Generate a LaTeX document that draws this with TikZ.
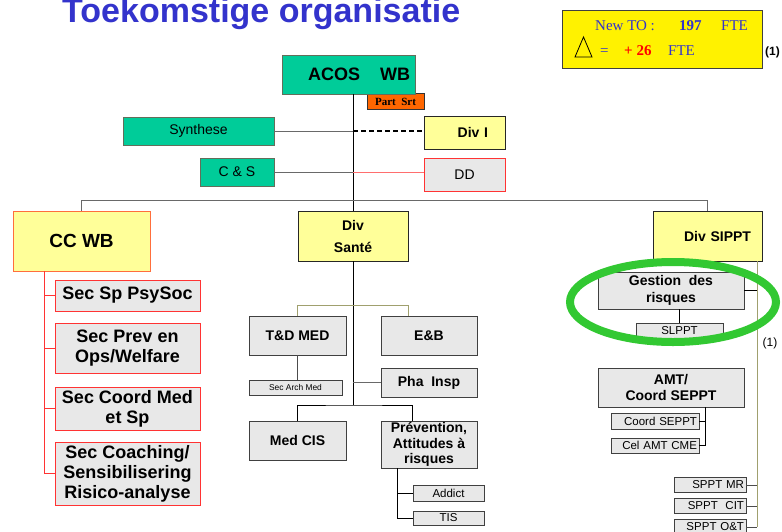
\documentclass[tikz,border=0pt]{standalone}
\usepackage{fontspec}
\setmainfont{Liberation Sans}
\newfontfamily\timesfont{Liberation Serif}
\usepackage{xcolor}

\definecolor{acosgreen}{RGB}{0,204,153}
\definecolor{greenedge}{RGB}{100,110,90}
\definecolor{divyellow}{RGB}{255,255,153}
\definecolor{boxgrey}{RGB}{232,232,232}
\definecolor{boxred}{RGB}{255,51,51}
\definecolor{ccred}{RGB}{255,110,60}
\definecolor{partorange}{RGB}{255,102,0}
\definecolor{titleblue}{RGB}{51,51,204}
\definecolor{linegrey}{RGB}{105,105,105}
\definecolor{linepink}{RGB}{255,110,110}
\definecolor{lineolive}{RGB}{160,160,110}
\definecolor{ringgreen}{RGB}{50,200,50}

\begin{document}
\begin{tikzpicture}[x=1pt, y=-1pt,
    wh/.style 2 args={minimum width=#1pt, minimum height=#2pt},
    box/.style={draw, inner sep=0pt, line width=0.8pt, align=center},
    greenbox/.style={box, fill=acosgreen, draw=greenedge},
    yellowbox/.style={box, fill=divyellow, draw=black!85},
    greybox/.style={box, fill=boxgrey, draw=black!75},
    redbox/.style={box, fill=boxgrey, draw=boxred},
    rightbox/.style={greybox, align=right, inner xsep=2pt},
    boldtxt/.style={font=\bfseries\fontsize{14}{16}\selectfont},
    plaintxt/.style={font=\fontsize{14}{16}\selectfont},
    smalltxt/.style={font=\fontsize{11.5}{13}\selectfont},
    sectxt/.style={font=\bfseries\fontsize{18}{20}\selectfont},
    infotxt/.style={anchor=base west, inner sep=0pt, font=\timesfont\fontsize{15}{17}\selectfont, text=titleblue},
    conn/.style={line width=0.8pt}]

    \useasboundingbox (0,0) rectangle (782,531);

    %title
    \node[anchor=base west, inner sep=0pt, text=titleblue, font=\bfseries\fontsize{34}{40}\selectfont] (title) at (62,22) {Toekomstige organisatie};

    %info box
    \node[box, fill=yellow, draw=black!75, wh={200}{58}] (info) at (662,39) {};
    \node[infotxt] (newto) at (595,30) {New TO :};
    \node[infotxt, font=\timesfont\bfseries\fontsize{15}{17}\selectfont] (total) at (679,30) {197};
    \node[infotxt] (fteone) at (721,30) {FTE};
    \node[infotxt] (equal) at (600,55) {=};
    \node[infotxt, text=red, font=\timesfont\bfseries\fontsize{15}{17}\selectfont] (delta) at (624,55) {+ 26};
    \node[infotxt] (ftetwo) at (668,55) {FTE};
    \draw[line width=0.8pt] (575,57) -- (583.5,37) -- (592,57) -- cycle;
    \node[anchor=base west, inner sep=0pt, font=\bfseries\fontsize{12}{14}\selectfont] (noteone) at (765,55) {(1)};

    %top boxes
    \node[box, fill=partorange, draw=black!80, wh={57}{16}, font=\timesfont\bfseries\fontsize{11}{12}\selectfont] (partsrt) at (395.5,101.5) {Part\ \ Srt};
    \node[greenbox, wh={133}{39}, align=right, inner xsep=5pt, text width=123pt, font=\bfseries\fontsize{18}{20}\selectfont] (acos) at (348.5,74.5) {ACOS\hspace{20pt}WB};
    \node[greenbox, wh={151}{28}, plaintxt] (synth) at (198.5,131) {Synthese};
    \node[yellowbox, wh={81}{33}, align=right, inner xsep=17pt, text width=47pt, boldtxt] (divi) at (464.5,132.5) {Div I};
    \node[greenbox, wh={74}{28}, plaintxt] (cs) at (237,172) {C \& S};
    \node[redbox, wh={81}{33}, plaintxt] (dd) at (464.5,174.5) {DD};

    %left column
    \node[box, fill=divyellow, draw=ccred, wh={137}{60}, font=\bfseries\fontsize{19}{21}\selectfont] (ccwb) at (81.5,241) {CC WB};
    \node[redbox, wh={145}{31}, sectxt] (sec1) at (127.5,295.5) {Sec Sp PsySoc};
    \node[redbox, wh={145}{50}, sectxt] (sec2) at (127.5,348) {Sec Prev en\\Ops/Welfare};
    \node[redbox, wh={145}{43}, sectxt] (sec3) at (127.5,408.5) {Sec Coord Med\\et Sp};
    \node[redbox, wh={145}{63}, sectxt] (sec4) at (127.5,473.5) {Sec Coaching/\\Sensibilisering\\Risico-analyse};

    %middle column
    \node[yellowbox, wh={110}{50}, boldtxt] (divsante) at (353,236) {Div\\[6pt]Santé};
    \node[greybox, wh={97}{39}, boldtxt] (tdmed) at (297.5,335.5) {T\&D MED};
    \node[greybox, wh={96}{39}, boldtxt] (eb) at (429,335.5) {E\&B};
    \node[greybox, wh={93}{15}, font=\fontsize{8.4}{10}\selectfont] (secarch) at (295.5,387.5) {Sec Arch Med};
    \node[greybox, wh={96}{29}, boldtxt] (phainsp) at (429,382.5) {Pha\ \ Insp};
    \node[greybox, wh={97}{39}, boldtxt] (medcis) at (297.5,440.5) {Med CIS};
    \node[greybox, wh={96}{47}, font=\bfseries\fontsize{14}{15.5}\selectfont] (prev) at (429,444.5) {Prévention,\\Attitudes à\\risques};
    \node[greybox, wh={71}{16}, smalltxt] (addict) at (448.5,493) {Addict};
    \node[greybox, wh={71}{14}, smalltxt] (tis) at (448.5,518) {TIS};

    %right column
    \node[yellowbox, wh={109}{50}, align=right, inner xsep=11pt, text width=87pt, boldtxt] (divsippt) at (707.5,236) {Div SIPPT};
    \node[greybox, wh={146}{37}, font=\bfseries\fontsize{14}{17}\selectfont] (gestion) at (671,290.5) {Gestion\ \ des\\risques};
    \node[greybox, wh={87}{16}, smalltxt] (slppt) at (679.5,331) {SLPPT};
    \node[greybox, wh={146}{39}, boldtxt] (amt) at (671,387.5) {AMT/\\Coord SEPPT};
    \node[rightbox, text width=84pt, minimum height=16pt, smalltxt] (coordsep) at (655,421) {Coord SEPPT};
    \node[rightbox, text width=84pt, minimum height=15pt, smalltxt] (celamt) at (655,445.5) {Cel AMT CME};
    \foreach \n/\y/\t in {mr/485/SPPT MR, cit/506/SPPT\ \ CIT, ot/527/SPPT O\&T}
        \node[rightbox, text width=68pt, minimum height=15pt, smalltxt] (sppt\n) at (710,\y) {\t};
    \node[font=\fontsize{12}{14}\selectfont] (notetwo) at (770,343) {(1)};

    %lines
    \coordinate (spine) at (353,0);
    \coordinate (bus) at (0,200);
    \coordinate (secbar) at (44,0);
    \coordinate (split) at (353,405);
    \coordinate (prevbar) at (397,0);
    \coordinate (sipptbar) at (757,0);
    \coordinate (amtbar) at (705,0);

    \draw[conn] (acos.south -| spine) -- (divsante.north);
    \draw[conn, draw=linegrey] (synth.east) -- (synth.east -| spine);
    \draw[line width=1.6pt, dash pattern=on 5pt off 3pt] (synth.east -| spine) -- (divi.west |- synth.east);
    \draw[conn, draw=linegrey] (cs.east) -- (cs.east -| spine);
    \draw[conn, draw=linepink] (cs.east -| spine) -- (dd.west |- cs.east);
    \draw[conn, draw=linegrey] (ccwb.north) -- (ccwb.north |- bus) -- (divsippt.north |- bus) -- (divsippt.north);

    \draw[conn, draw=boxred] (ccwb.south -| secbar) |- (sec4.west);
    \foreach \s in {sec1,sec2,sec3}
        \draw[conn, draw=boxred] (\s.west) -- (\s.west -| secbar);

    \draw[conn] (divsante.south) -- (split);
    \draw[conn, draw=lineolive] (tdmed.north) -- ++(0,-10) -| (divsante.east |- eb.north);
    \draw[conn, draw=linegrey] (phainsp.west) -- (phainsp.west -| split);
    \draw[conn] (medcis.north) |- (split) -| (prev.north -| addict.west);
    \draw[conn, draw=black!70] (tdmed.south) -- (tdmed.south |- secarch.north);
    \draw[conn] (prev.south -| prevbar) |- (tis.west);
    \draw[conn] (addict.west) -- (addict.west -| prevbar);

    \draw[conn, draw=lineolive] (divsippt.south -| sipptbar) -- (spptot.east -| sipptbar);
    \draw[conn] (gestion.east) -- (gestion.east -| sipptbar);
    \foreach \n in {mr,cit,ot}
        \draw[conn, draw=black!70] (sppt\n.east) -- (sppt\n.east -| sipptbar);
    \draw[conn] (slppt.north |- gestion.south) -- (slppt.north);
    \draw[conn] (amt.south -| amtbar) |- (celamt.east);
    \draw[conn] (coordsep.east) -- (coordsep.east -| amtbar);

    %ring
    \draw[line width=8pt, ringgreen] (673,302) ellipse [x radius=103pt, y radius=40pt];

\end{tikzpicture}
\end{document}
